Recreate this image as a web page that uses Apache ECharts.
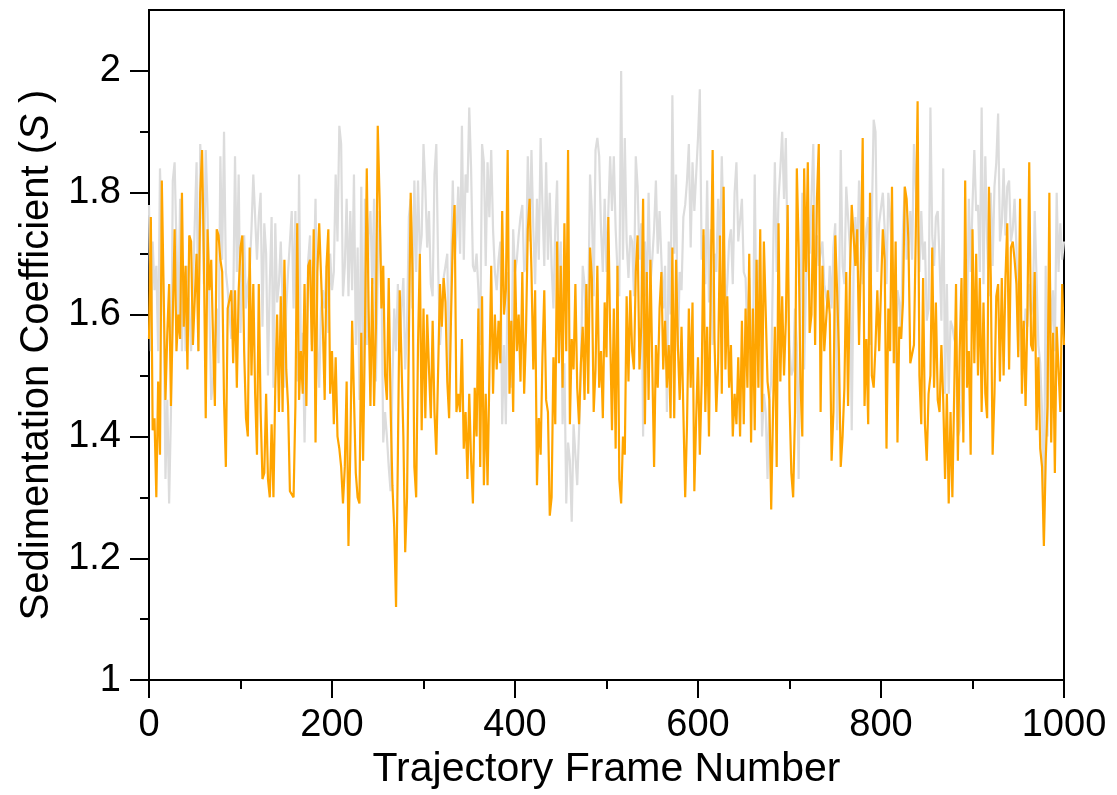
<!DOCTYPE html>
<html>
<head>
<meta charset="utf-8">
<script src="https://cdn.jsdelivr.net/npm/echarts@6/dist/echarts.min.js"></script>
<style>
html,body{margin:0;padding:0;background:#fff;}
#chart{width:1117px;height:795px;}
</style>
</head>
<body>
<div id="chart"></div>
<script>
// Frame spacing between stored samples (frames 0,2,4,...,1000)
const FRAME_STEP = 2;

const xTickLabels = [0, 200, 400, 600, 800, 1000];
const yMajorTicks = [1, 1.2, 1.4, 1.6, 1.8, 2];
const yMinorTicks = [1.1, 1.3, 1.5, 1.7, 1.9];

// Orange series (foreground)
const orangeValues = [
1.56,1.76,1.41,1.43,1.30,1.49,1.37,1.82,1.82,1.46,
1.57,1.65,1.45,1.45,1.74,1.54,1.60,1.56,1.80,1.58,
1.68,1.51,1.73,1.72,1.55,1.55,1.70,1.54,1.80,1.87,
1.69,1.43,1.74,1.64,1.69,1.56,1.45,1.74,1.73,1.69,
1.67,1.46,1.35,1.61,1.61,1.64,1.52,1.64,1.48,1.64,
1.71,1.73,1.54,1.43,1.40,1.71,1.50,1.65,1.47,1.37,
1.65,1.44,1.33,1.34,1.47,1.33,1.30,1.42,1.30,1.48,
1.60,1.44,1.63,1.44,1.69,1.51,1.45,1.31,1.31,1.30,
1.45,1.75,1.46,1.54,1.47, 1.65,1.45,1.68,1.69,1.54,
1.74,1.39,1.67,1.75,1.75, 1.58,1.46,1.68,1.74,1.47,
1.54,1.42,1.53,1.40,1.38, 1.35,1.29,1.35,1.49,1.22,
1.38,1.59,1.59,1.34,1.30, 1.29,1.57,1.36,1.57,1.84,
1.61,1.45,1.66,1.45,1.58, 1.91,1.79,1.61,1.68,1.50,
1.46,1.66,1.45,1.32,1.25, 1.12,1.37,1.64,1.52,1.40,
1.21,1.30,1.56,1.80,1.67, 1.35,1.30,1.55,1.70,1.41,
1.61,1.43,1.60,1.51,1.43, 1.59,1.44,1.37,1.51,1.65,
1.58,1.66,
1.62,1.49,1.43,1.59,1.72, 1.78,1.44,1.47,1.44,1.56,
1.38,1.44,1.33,1.47,1.36, 1.29,1.48,1.40,1.61,1.35,
1.63,1.32,1.47,1.32,1.50, 1.68,1.47,1.60,1.51,1.59,
1.52,1.77,1.60,1.64,1.87, 1.47,1.59,1.44,1.69,1.54,
1.60,1.49,1.67,1.47,1.57, 1.74,1.79,1.67,1.51,1.64,
1.32,1.43,1.37,1.53,1.64, 1.46,1.44,1.27,1.30,1.53,
1.42,1.72,1.52,1.68,1.48, 1.75,1.54,1.87,1.42,1.56,
1.51,1.65,1.48,1.42,1.52, 1.58,1.46,1.65,1.47,1.71,
1.66,1.44,
1.51,1.68,1.48,1.54,1.43, 1.62,1.53,1.76,1.57,1.41,
1.61,1.38,1.68,1.33,1.29, 1.40,1.37,1.63,1.49,1.64,
1.54,1.51,1.67,1.73,1.51, 1.58,1.79,1.42,1.67,1.46,
1.69,1.52,1.35,1.55,1.48, 1.61,1.67,1.51,1.59,1.48,
1.55,1.43,1.71,1.43,1.69, 1.55,1.46,1.58,1.44,1.30,
1.42,1.61,1.48,1.62,1.31, 1.43,1.53,1.37,1.49,1.74,
1.44,1.58,1.40,1.66,1.87, 1.56,1.44,1.52,1.73,1.47,
1.81,1.51,1.63,1.48,1.55, 1.40,1.47,1.42,1.53,1.40,
1.59,1.42,
1.61,1.48,1.70,1.39,1.61, 1.41,1.69,1.48,1.74,1.44,
1.72,1.72,1.49,1.46,1.28, 1.44,1.58,1.35,1.75,1.49,
1.63,1.50,1.59,1.78,1.46, 1.34,1.30,1.44,1.84,1.71,
1.49,1.40,1.84,1.67,1.85, 1.57,1.60,1.78,1.55,1.79,
1.88,1.44,1.68,1.54,
1.54,1.64,1.60,1.36,1.44, 1.73,1.64,1.54,1.35,1.40,
1.48,1.67,1.45,1.66,1.78, 1.78,1.68,1.74,1.55,1.69,
1.89,1.45,1.56,1.42,1.80, 1.50,1.48,1.55,1.64,1.54,
1.64,1.74,1.69,1.38,1.61, 1.54,1.81,1.52,
1.72,1.39,1.58,1.56,1.62, 1.81,1.79,1.72,1.52,1.52,
1.55,1.73,1.95,1.50,1.42, 1.66,1.42,1.36,1.47,1.50,
1.71,1.48,1.62,1.46,1.44, 1.55,1.46,1.33,1.47,1.29,
1.44,1.30,1.47,1.65,1.36, 1.54,1.66,1.39,1.82,1.48,
1.54,1.37,1.74,1.52,1.70, 1.50,1.66,1.44,1.62,1.47,
1.43,1.81,1.66,1.37,1.47, 1.63,1.65,1.49,1.66,1.50,
1.66,1.75,1.51,1.71,1.72, 1.69,1.65,1.53,1.79,1.47,
1.59,1.45,1.60,1.85,1.55, 1.54,1.67,1.41,1.53,1.38,
1.35,1.22,1.36,1.45,1.80, 1.39,1.57,1.34,1.58,1.58,
1.44,1.65,1.55
];

// Grey series (background)
const greyValues = [
1.78,1.54,1.72,1.64,1.68,1.54,1.84,1.84,1.62,1.33,
1.46,1.29,1.44,1.82,1.85,1.85,1.58,1.79,1.54,1.67,
1.54,1.68,1.61,1.54,1.54,1.75,1.85,1.54,1.88,1.80,
1.65,1.87,1.77,1.61,1.46,1.49,1.56,1.61,1.52,1.86,
1.69,1.90,1.67,1.64,1.64,1.56,1.61,1.86,1.67,1.83,
1.57,1.67,1.73,1.61,1.65,1.67,1.74,1.83,1.83,1.69,
1.76,1.80,1.58,1.75,1.70,1.50,1.65,1.76,1.48,1.75,
1.62,1.65,1.72,1.62,1.48,1.61,1.67,1.67,1.77,1.61,
1.77,1.49,1.83,1.54,1.57, 1.39,1.55,1.69,1.73,1.55,
1.66,1.79,1.55,1.48,1.61, 1.64,1.61,1.68,1.57,1.70,
1.64,1.67,1.83,1.72,1.91, 1.88,1.63,1.68,1.79,1.63,
1.77,1.64,1.83,1.55,1.71, 1.46,1.81,1.46,1.79,1.55,
1.73,1.77,1.65,1.79,1.49, 1.67,1.77,1.66,1.39,1.44,
1.40,1.35,1.31,1.49,1.61, 1.54,1.65,1.55,1.61,1.66,
1.51,1.58,1.76,1.79,1.61, 1.82,1.67,1.82,1.70,1.73,
1.88,1.81,1.71,1.77,1.65, 1.63,1.83,1.88,1.68,1.55,
1.60,1.66,
1.66,1.70,1.48,1.67,1.82, 1.69,1.73,1.81,1.70,1.91,
1.69,1.83,1.80,1.94,1.84, 1.68,1.67,1.70,1.64,1.55,
1.88,1.85,1.68,1.85,1.76, 1.87,1.74,1.67,1.64,1.69,
1.72,1.42,1.55,1.42,1.67, 1.56,1.48,1.74,1.67,1.69,
1.73,1.76,1.78,1.67,1.68, 1.86,1.72,1.87,1.74,1.65,
1.79,1.69,1.89,1.78,1.68, 1.85,1.69,1.80,1.68,1.61,
1.74,1.82,1.61,1.72,1.42, 1.52,1.29,1.39,1.36,1.26,
1.42,1.37,1.32,1.41,1.51, 1.68,1.65,1.56,1.60,1.83,
1.77,1.63,
1.87,1.89,1.86,1.74,1.67, 1.79,1.67,1.77,1.86,1.77,
1.86,1.74,1.67,1.63,2.00, 1.69,1.89,1.72,1.66,1.73,
1.72,1.63,1.86,1.81,1.69, 1.75,1.40,1.72,1.63,1.80,
1.65,1.69,1.74,1.82,1.70, 1.77,1.69,1.61,1.68,1.44,
1.72,1.60,1.96,1.70,1.83, 1.54,1.67,1.64,1.76,1.78,
1.82,1.88,1.71,1.85,1.77, 1.83,1.89,1.97,1.69,1.73,
1.65,1.82,1.62,1.74,1.55, 1.70,1.67,1.79,1.70,1.86,
1.86,1.61,1.65,1.72,1.74, 1.65,1.80,1.85,1.72,1.72,
1.79,1.67,
1.66,1.56,1.66,1.55,1.52, 1.83,1.56,1.69,1.61,1.40,
1.47,1.44,1.33,1.46,1.49, 1.69,1.85,1.67,1.79,1.84,
1.90,1.79,1.89,1.68,1.55, 1.50,1.51,1.61,1.55,1.33,
1.62,1.80,1.51,1.65,1.72, 1.70,1.79,1.88,1.68,1.73,
1.68,1.70,1.72,1.65,1.65, 1.61,1.68,1.61,1.71,1.75,
1.41,1.61,1.87,1.68,1.65, 1.81,1.76,1.71,1.41,1.67,
1.76,1.69,1.82,1.72,1.65, 1.65,1.74,1.76,1.55,1.76,
1.92,1.90,1.67,1.75,1.75, 1.80,1.74,1.65,1.80,1.76,
1.70,1.67,
1.52,1.64,1.62,1.56,1.74, 1.81,1.69,1.72,1.77,1.69,
1.88,1.81,1.75,1.67,1.77, 1.69,1.72,1.59,1.61,1.94,
1.73,1.68,1.76,1.77,1.69, 1.59,1.84,1.47,1.65,1.47,
1.59,1.58,1.56,1.55,1.40, 1.41,1.46,1.61,1.70,1.59,
1.79,1.67,1.78,1.87,1.77, 1.78,1.67,1.94,1.65,1.86,
1.72,1.63,1.80,1.68,1.81, 1.85,1.93,1.72,1.75,1.84,
1.73,1.81,1.82,1.72,1.74, 1.79,1.71,1.54,1.68,1.50,
1.56,1.61,1.58,1.65,1.60, 1.62,1.77,1.66,1.55,1.52,
1.44,1.23,1.68,1.40,1.70, 1.57,1.64,1.54,1.80,1.67,
1.75,1.69,1.72
];

const FONT = '"Liberation Sans", Arial, Helvetica, sans-serif';
const toPairs = vals => vals.map((v, i) => [i * FRAME_STEP, v]);
const Y_MIN = 1, Y_MAX = 2.1;

const chart = echarts.init(document.getElementById('chart'), null, {renderer: 'canvas'});
chart.setOption({
  animation: false,
  backgroundColor: '#ffffff',
  grid: {
    left: 149, right: 53, top: 10, bottom: 110,
    show: true, borderColor: '#000', borderWidth: 2, backgroundColor: 'transparent'
  },
  xAxis: {
    type: 'value',
    min: xTickLabels[0],
    max: xTickLabels[xTickLabels.length - 1],
    interval: 200,
    axisLine: {show: true, lineStyle: {color: '#000', width: 2}},
    axisTick: {show: true, inside: false, length: 18, lineStyle: {color: '#000', width: 2}},
    minorTick: {show: true, splitNumber: 2, length: 9, lineStyle: {color: '#000', width: 2}},
    splitLine: {show: false},
    minorSplitLine: {show: false},
    axisLabel: {fontSize: 38, color: '#000', margin: 26, fontFamily: FONT, formatter: v => String(v)},
    name: 'Trajectory Frame Number',
    nameLocation: 'middle',
    nameGap: 64,
    nameTextStyle: {fontSize: 41, color: '#000', fontFamily: FONT}
  },
  yAxis: [
    {
      type: 'value',
      min: Y_MIN,
      max: Y_MAX,
      axisLine: {show: true, lineStyle: {color: '#000', width: 2}},
      axisTick: {show: true, inside: false, length: 19, customValues: yMajorTicks, lineStyle: {color: '#000', width: 2}},
      splitLine: {show: false},
      axisLabel: {fontSize: 38, color: '#000', margin: 28, fontFamily: FONT, customValues: yMajorTicks,
        formatter: v => String(Math.round(v * 10) / 10)},
      name: 'Sedimentation Coefficient ({i|S} )',
      nameLocation: 'middle',
      nameGap: 91,
      nameRotate: 90,
      nameTextStyle: {fontSize: 40, color: '#000', fontFamily: FONT, padding: [0, 20, 0, 0],
        rich: {i: {fontSize: 40, fontStyle: 'italic', color: '#000', fontFamily: FONT}}}
    },
    {
      type: 'value',
      min: Y_MIN,
      max: Y_MAX,
      position: 'left',
      axisLine: {show: false},
      axisTick: {show: true, inside: false, length: 9, customValues: yMinorTicks, lineStyle: {color: '#000', width: 2}},
      axisLabel: {show: false},
      splitLine: {show: false}
    }
  ],
  series: [
    {
      type: 'line', data: toPairs(greyValues), showSymbol: false, symbol: 'none',
      lineStyle: {color: '#dcdcdc', width: 2.2}, z: 1, silent: true, yAxisIndex: 0
    },
    {
      type: 'line', data: toPairs(orangeValues), showSymbol: false, symbol: 'none',
      lineStyle: {color: '#ffa500', width: 2.2}, z: 2, silent: true, yAxisIndex: 0
    }
  ]
});
</script>
</body>
</html>
